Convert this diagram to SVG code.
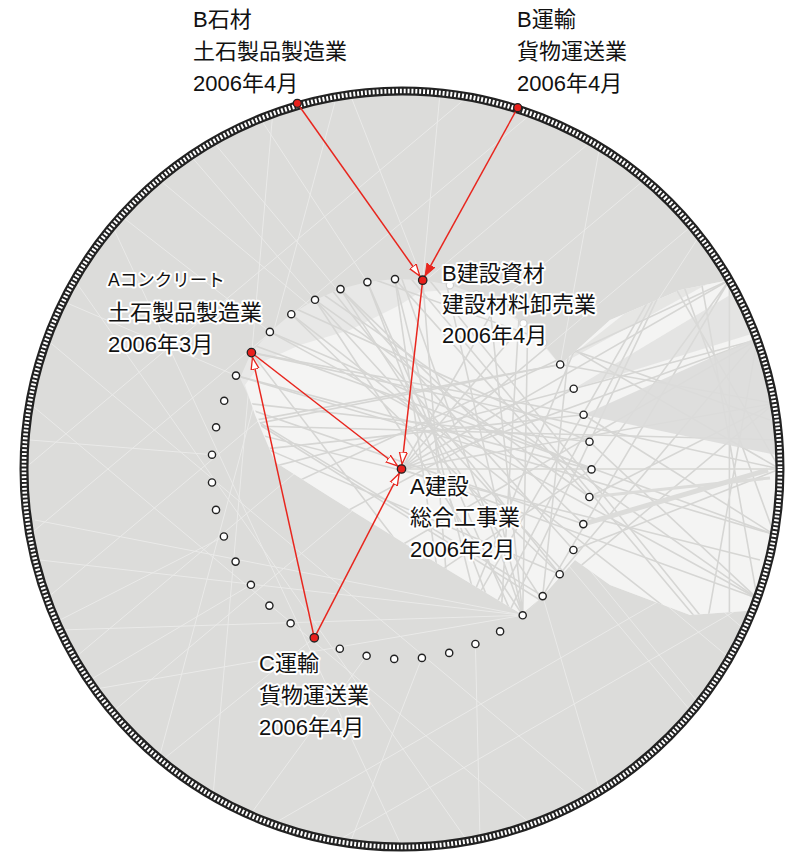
<svg xmlns="http://www.w3.org/2000/svg" width="800" height="864" viewBox="0 0 800 864">
<style>
.lb{font-family:"Liberation Sans","Noto Sans CJK JP",sans-serif;font-size:22px;fill:#111;stroke:#fff;stroke-width:4px;paint-order:stroke;stroke-linejoin:round}
.sm{font-size:17.5px}
.nd{fill:#fff;stroke:#222;stroke-width:1.4}
.fd{fill:#fff;stroke:#cfcfcf;stroke-width:1.2}
.rd{fill:#e8201c;stroke:#222;stroke-width:1.3}
.ar{fill:none;stroke:#e8261e;stroke-width:1.5}
.ed{fill:none;stroke:#d6d6d4;stroke-width:1.6}
.wl{fill:none;stroke:#fff;stroke-width:1;opacity:0.4}
</style>
<defs>
<path id="mreg" d="M240,378 L251,353 L270,332 L291,314 L315,300 L340,289 L367,282 L395,279 L423,280 L450,285 L476,294 L501,307 L523,323 L543,343 L560,365 L610,320 L680,290 L729.4,280 A378,378 0 0 1 752.5,610.6 L690,615 L610,585 L575,560 L543,596 L523,615 L420,553 L330,497 L275,462 L255,410 Z"/>
<path id="wreg" d="M245,385 L262,362 L300,345 L350,330 L400,305 L420,292 L450,290 L476,296 L501,309 L523,325 L543,345 L560,365 L610,320 L680,290 L729.4,280 A378,378 0 0 1 752.5,610.6 L690,615 L610,585 L575,560 L543,596 L523,615 L420,553 L330,497 L275,462 L255,415 Z"/>
<clipPath id="wclip"><use href="#mreg"/></clipPath>
<marker id="ah" viewBox="0 -6 20 12" refX="17" refY="0" markerWidth="20" markerHeight="12" markerUnits="userSpaceOnUse" orient="auto"><path d="M0,-4 L12,0 L0,4 Z" fill="#fff" stroke="#e8261e" stroke-width="1.3"/></marker>
<marker id="af" viewBox="0 -6 20 12" refX="17" refY="0" markerWidth="20" markerHeight="12" markerUnits="userSpaceOnUse" orient="auto"><path d="M0,-4.5 L12,0 L0,4.5 Z" fill="#e8261e" stroke="#e8261e" stroke-width="1"/></marker>
</defs>

<g id="background">
<circle cx="402" cy="469" r="378" fill="#dcdcda"/>
<g class="wl">
<path d="M46.8,598.3 L591,141.6 M29.7,534.6 L531.3,113.8 M74.6,658 L645,179.4 M112.5,712 L691.5,226 M24,469 L467.6,96.7 M159,758.6 L336.4,96.7 M213,796.4 L272.7,113.8 M46.8,339.7 L591,796.4 M29.7,403.4 L531.3,824.2 M74.6,280 L467.6,841.3 M112.5,226 L402,847 M272.7,824.2 L774.3,534.6 M336.4,841.3 L757.2,598.3 M213,141.6 L691.5,712 M159,179.4 L729.4,658"/>
<path d="M35,520 L522.7,615.3 M40,560 L522.7,615.3 M60,630 L522.7,615.3 M90,690 L522.7,615.3 M30,440 L212,454.7 M60,300 L236,375.6 M120,215 L269.9,331.9 M190,155 L315,299.8 M260,118 L367.4,282.1 M350,94 L422.7,280.2 M440,93 L422.7,280.2 M600,145 L560.2,364.5 M700,235 L583.6,414.7 M150,770 L314.3,637.8 M250,815 L366.6,655.8 M350,843 L421.9,657.9 M480,840 L475.4,644 M600,792 L542.7,596.1 M700,705 L573.4,550 M745,630 L589.4,497 M90,680 L250.9,584.8 M60,620 L223.9,536.5"/>
</g>
<use href="#mreg" fill="#e8e8e7"/>
<use href="#wreg" fill="#f4f4f3"/>
<g clip-path="url(#wclip)">
<g class="ed">
<path d="M729.4,280 L46.8,598.3 M757.2,339.7 L112.5,712 M774.3,403.4 L272.7,824.2 M774.3,534.6 L74.6,280 M757.2,598.3 L159,179.4 M780,469 L213,141.6 M729.4,658 L272.7,113.8 M691.5,226 L336.4,841.3 M691.5,226 L757.2,598.3 M645,179.4 L774.3,534.6 M729.4,280 L729.4,658 M757.2,339.7 L691.5,712 M591,141.6 L780,469"/>
<path d="M560.2,364.5 L24,469 M573.7,388.7 L74.6,658 M589.5,441.7 L112.5,226 M591.5,469.4 L159,758.6 M583.3,524.1 L46.8,339.7 M559.7,574.2 L213,141.6 M522.7,615.3 L336.4,96.7 M522.7,615.3 L402,91 M522.7,615.3 L467.6,96.7 M522.7,615.3 L531.3,113.8 M500.1,631.4 L531.3,113.8 M542.7,596.1 L591,141.6 M449.2,652.9 L645,179.4 M475.4,644 L691.5,226"/>
<path d="M251.4,352.6 L780,469 M236,375.6 L774.3,534.6 M269.9,331.9 L757.2,598.3 M291.3,314.2 L729.4,658 M315,299.8 L691.5,712 M340.5,289.1 L645,758.6 M367.4,282.1 L591,796.4 M395,279.1 L531.3,824.2 M422.7,280.2 L467.6,841.3"/>
<path d="M401.5,469 L729.4,280 M401.5,469 L774.3,403.4 M401.5,469 L757.2,598.3 M401.5,469 L691.5,226 M401.5,469 L645,179.4 M401.5,469 L780,469 M401.5,469 L591,141.6 M401.5,469 L757.2,339.7"/>
<path d="M395,279.1 L589.4,497 M340.5,289.1 L573.4,550 M251.4,352.6 L583.6,414.7 M224.2,400.8 L589.5,441.7 M216.1,427.3 L560.2,364.5 M291.3,314.2 L559.7,574.2 M315,299.8 L522.7,615.3 M269.9,331.9 L591.5,469.4"/>
<path d="M589.4,497 L774.3,403.4 M573.4,550 L780,469 M589.5,441.7 L757.2,598.3 M583.6,414.7 L774.3,534.6 M591.5,469.4 L729.4,280 M560.2,364.5 L774.3,403.4 M573.7,388.7 L757.2,339.7 M559.7,574.2 L757.2,339.7 M542.7,596.1 L729.4,280 M500.1,631.4 L691.5,226"/>
<path d="M236,375.6 L591.5,469.4 M212,454.7 L583.6,414.7 M224.2,400.8 L542.7,596.1 M367.4,282.1 L500.1,631.4 M449.2,652.9 L395,279.1 M251.4,352.6 L475.4,644 M315,299.8 L589.4,497 M212,482.5 L573.7,388.7 M216.1,427.3 L559.7,574.2 M340.5,289.1 L583.3,524.1 M30,420 L780,440 M40,380 L760,560 M60,300 L700,700 M150,200 L770,420 M300,120 L720,640"/>
</g>
<path d="M583.6,414.7 L762,335 L776,455 Z" fill="#dcdcda" opacity="0.9"/>
<path d="M573.7,388.7 L735,292 L758,332 Z" fill="#dcdcda" opacity="0.65"/>
<path d="M560.2,364.5 L690,262 L722,276 Z" fill="#dcdcda" opacity="0.6"/>
<path d="M583.3,524.1 L768,470" stroke="#dcdcda" stroke-width="5" fill="none"/>
<path d="M589.4,497 L770,478" stroke="#dcdcda" stroke-width="3" fill="none"/>
</g>
</g>

<g id="outer-ring">
<circle cx="402" cy="469" r="378" fill="none" stroke="#222" stroke-width="9"/>
<circle cx="402" cy="469" r="378" fill="none" stroke="#fff" stroke-width="4.6" stroke-dasharray="2 1.9"/>
</g>

<g id="connectors">
<path class="ar" d="M297.3,103.3 L422.7,280.2" marker-end="url(#ah)"/>
<path class="ar" d="M517.7,107.7 L422.7,280.2" marker-end="url(#af)"/>
<path class="ar" d="M422.7,280.2 L401.5,469" marker-end="url(#ah)"/>
<path class="ar" d="M251.4,352.6 L401.5,469" marker-end="url(#ah)"/>
<path class="ar" d="M314.3,637.8 L251.4,352.6" marker-end="url(#ah)"/>
<path class="ar" d="M314.3,637.8 L401.5,469" marker-end="url(#ah)"/>
</g>

<g id="inner-nodes">
<g id="n01"><circle class="fd" cx="449.9" cy="285.3" r="3.6"/></g>
<g id="n02"><circle class="fd" cx="476.2" cy="294.3" r="3.6"/></g>
<g id="n03"><circle class="fd" cx="500.8" cy="307" r="3.6"/></g>
<g id="n04"><circle class="fd" cx="523.4" cy="323.2" r="3.6"/></g>
<g id="n05"><circle class="fd" cx="543.3" cy="342.6" r="3.6"/></g>
<g id="n06"><circle class="nd" cx="560.2" cy="364.5" r="3.6"/></g>
<g id="n07"><circle class="nd" cx="573.7" cy="388.7" r="3.6"/></g>
<g id="n08"><circle class="nd" cx="583.6" cy="414.7" r="3.6"/></g>
<g id="n09"><circle class="nd" cx="589.5" cy="441.7" r="3.6"/></g>
<g id="n10"><circle class="nd" cx="591.5" cy="469.4" r="3.6"/></g>
<g id="n11"><circle class="nd" cx="589.4" cy="497" r="3.6"/></g>
<g id="n12"><circle class="nd" cx="583.3" cy="524.1" r="3.6"/></g>
<g id="n13"><circle class="nd" cx="573.4" cy="550" r="3.6"/></g>
<g id="n14"><circle class="nd" cx="559.7" cy="574.2" r="3.6"/></g>
<g id="n15"><circle class="nd" cx="542.7" cy="596.1" r="3.6"/></g>
<g id="n16"><circle class="nd" cx="522.7" cy="615.3" r="3.6"/></g>
<g id="n17"><circle class="nd" cx="500.1" cy="631.4" r="3.6"/></g>
<g id="n18"><circle class="nd" cx="475.4" cy="644" r="3.6"/></g>
<g id="n19"><circle class="nd" cx="449.2" cy="652.9" r="3.6"/></g>
<g id="n20"><circle class="nd" cx="421.9" cy="657.9" r="3.6"/></g>
<g id="n21"><circle class="nd" cx="394.2" cy="658.9" r="3.6"/></g>
<g id="n22"><circle class="nd" cx="366.6" cy="655.8" r="3.6"/></g>
<g id="n23"><circle class="nd" cx="339.8" cy="648.7" r="3.6"/></g>
<g id="n25"><circle class="nd" cx="290.6" cy="623.3" r="3.6"/></g>
<g id="n26"><circle class="nd" cx="269.4" cy="605.6" r="3.6"/></g>
<g id="n27"><circle class="nd" cx="250.9" cy="584.8" r="3.6"/></g>
<g id="n28"><circle class="nd" cx="235.6" cy="561.6" r="3.6"/></g>
<g id="n29"><circle class="nd" cx="223.9" cy="536.5" r="3.6"/></g>
<g id="n30"><circle class="nd" cx="216" cy="509.9" r="3.6"/></g>
<g id="n31"><circle class="nd" cx="212" cy="482.5" r="3.6"/></g>
<g id="n32"><circle class="nd" cx="212" cy="454.7" r="3.6"/></g>
<g id="n33"><circle class="nd" cx="216.1" cy="427.3" r="3.6"/></g>
<g id="n34"><circle class="nd" cx="224.2" cy="400.8" r="3.6"/></g>
<g id="n35"><circle class="nd" cx="236" cy="375.6" r="3.6"/></g>
<g id="n37"><circle class="nd" cx="269.9" cy="331.9" r="3.6"/></g>
<g id="n38"><circle class="nd" cx="291.3" cy="314.2" r="3.6"/></g>
<g id="n39"><circle class="nd" cx="315" cy="299.8" r="3.6"/></g>
<g id="n40"><circle class="nd" cx="340.5" cy="289.1" r="3.6"/></g>
<g id="n41"><circle class="nd" cx="367.4" cy="282.1" r="3.6"/></g>
<g id="n42"><circle class="nd" cx="395" cy="279.1" r="3.6"/></g>
</g>

<g id="b-sekizai">
<circle class="rd" cx="297.3" cy="103.3" r="4"/>
<text class="lb" x="193" y="27">B石材</text>
<text class="lb" x="193" y="59">土石製品製造業</text>
<text class="lb" x="193" y="91">2006年4月</text>
</g>
<g id="b-unyu">
<circle class="rd" cx="517.7" cy="107.7" r="4"/>
<text class="lb" x="517" y="27">B運輸</text>
<text class="lb" x="517" y="59">貨物運送業</text>
<text class="lb" x="517" y="91">2006年4月</text>
</g>
<g id="b-kensetsu-shizai">
<circle class="rd" cx="422.7" cy="280.2" r="4.2"/>
<text class="lb" x="442" y="281">B建設資材</text>
<text class="lb" x="442" y="312">建設材料卸売業</text>
<text class="lb" x="442" y="343">2006年4月</text>
</g>
<g id="a-concrete">
<circle class="rd" cx="251.4" cy="352.6" r="4.2"/>
<text class="lb sm" x="108" y="286">Aコンクリート</text>
<text class="lb" x="108" y="320">土石製品製造業</text>
<text class="lb" x="108" y="352">2006年3月</text>
</g>
<g id="a-kensetsu">
<circle class="rd" cx="401.5" cy="469" r="4.2"/>
<text class="lb" x="410" y="494">A建設</text>
<text class="lb" x="410" y="525">総合工事業</text>
<text class="lb" x="410" y="557">2006年2月</text>
</g>
<g id="c-unyu">
<circle class="rd" cx="314.3" cy="637.8" r="4.2"/>
<text class="lb" x="259" y="671">C運輸</text>
<text class="lb" x="259" y="703">貨物運送業</text>
<text class="lb" x="259" y="735">2006年4月</text>
</g>
</svg>
